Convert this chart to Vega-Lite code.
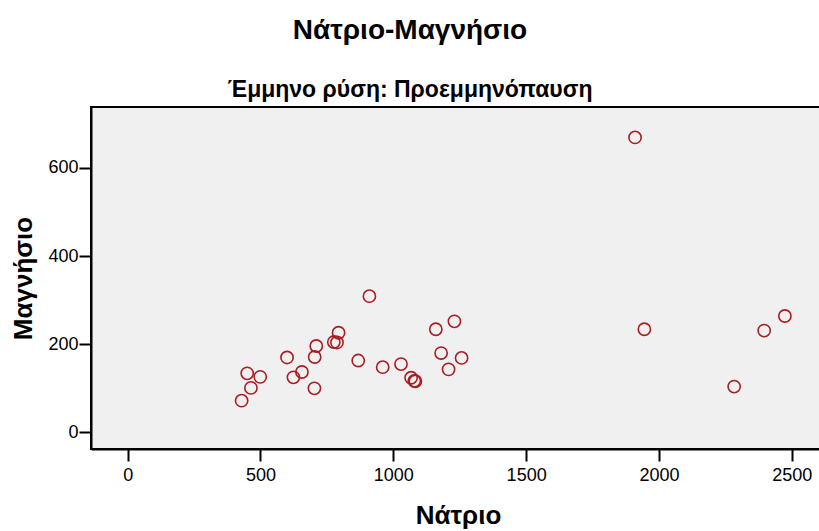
{
  "$schema": "https://vega.github.io/schema/vega-lite/v6.json",
  "width": 734,
  "height": 342,
  "autosize": {"type": "none"},
  "padding": {"left": 91, "top": 107, "right": 0, "bottom": 82},
  "background": "white",
  "title": {
    "text": "Νάτριο-Μαγνήσιο",
    "subtitle": "Έμμηνο ρύση: Προεμμηνόπαυση",
    "font": "Liberation Sans",
    "fontSize": 28,
    "fontWeight": "bold",
    "color": "black",
    "subtitleFont": "Liberation Sans",
    "subtitleFontSize": 23,
    "subtitleFontWeight": "bold",
    "subtitleColor": "black",
    "subtitlePadding": 34,
    "anchor": "middle",
    "dx": -48,
    "offset": 5
  },
  "config": {
    "view": {"fill": "#f0f0f0", "stroke": "black", "strokeWidth": 2},
    "axis": {
      "labelFont": "Liberation Sans",
      "labelFontSize": 18,
      "labelColor": "black",
      "titleFont": "Liberation Sans",
      "titleFontSize": 26,
      "titleFontWeight": "bold",
      "titleColor": "black",
      "domainColor": "black",
      "domainWidth": 2,
      "tickColor": "black",
      "tickWidth": 2,
      "tickSize": 12,
      "grid": false
    }
  },
  "data": {
    "values": [
      {"Natrio": 429, "Magnisio": 72},
      {"Natrio": 450, "Magnisio": 134},
      {"Natrio": 464, "Magnisio": 101},
      {"Natrio": 499, "Magnisio": 126},
      {"Natrio": 600, "Magnisio": 170},
      {"Natrio": 624, "Magnisio": 125},
      {"Natrio": 656, "Magnisio": 137},
      {"Natrio": 703, "Magnisio": 100},
      {"Natrio": 704, "Magnisio": 171},
      {"Natrio": 710, "Magnisio": 196},
      {"Natrio": 776, "Magnisio": 205},
      {"Natrio": 788, "Magnisio": 204},
      {"Natrio": 794, "Magnisio": 226},
      {"Natrio": 868, "Magnisio": 163},
      {"Natrio": 910, "Magnisio": 309},
      {"Natrio": 960, "Magnisio": 148},
      {"Natrio": 1029, "Magnisio": 155},
      {"Natrio": 1067, "Magnisio": 124},
      {"Natrio": 1079, "Magnisio": 117},
      {"Natrio": 1083, "Magnisio": 116},
      {"Natrio": 1160, "Magnisio": 234},
      {"Natrio": 1180, "Magnisio": 180},
      {"Natrio": 1208, "Magnisio": 143},
      {"Natrio": 1230, "Magnisio": 252},
      {"Natrio": 1257, "Magnisio": 169},
      {"Natrio": 1910, "Magnisio": 669},
      {"Natrio": 1945, "Magnisio": 234},
      {"Natrio": 2283, "Magnisio": 104},
      {"Natrio": 2396, "Magnisio": 231},
      {"Natrio": 2474, "Magnisio": 264}
    ]
  },
  "mark": {"type": "point", "shape": "circle", "filled": false, "size": 150, "strokeWidth": 1.6, "color": "#aa1d22", "opacity": 1},
  "encoding": {
    "x": {
      "field": "Natrio",
      "type": "quantitative",
      "title": "Νάτριο",
      "scale": {"domain": [-138, 2625], "nice": false, "zero": false},
      "axis": {"values": [0, 500, 1000, 1500, 2000, 2500], "format": "d", "labelPadding": 5, "titlePadding": 18}
    },
    "y": {
      "field": "Magnisio",
      "type": "quantitative",
      "title": "Μαγνήσιο",
      "scale": {"domain": [-37.6, 738], "nice": false, "zero": false},
      "axis": {"values": [0, 200, 400, 600], "format": "d", "labelPadding": 1, "titlePadding": 11}
    }
  }
}
